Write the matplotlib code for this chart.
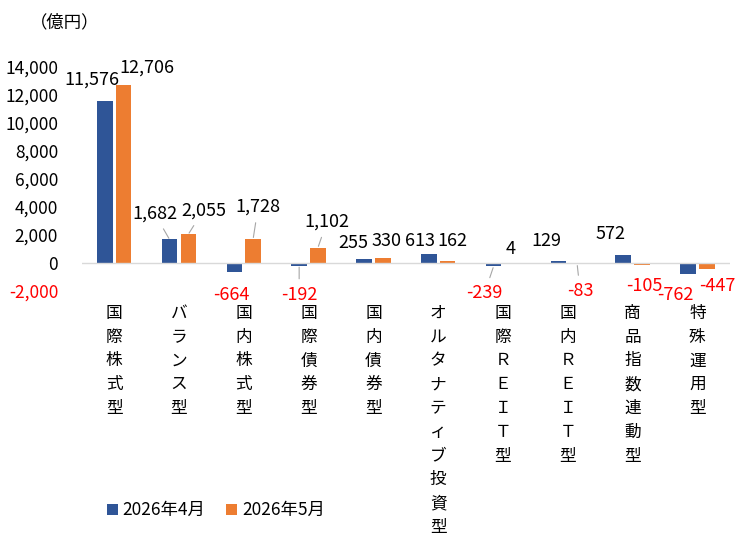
import numpy as np
import matplotlib
matplotlib.use("Agg")
import matplotlib.pyplot as plt
from matplotlib.ticker import FuncFormatter

plt.rcParams['font.family'] = ['Noto Sans CJK JP', 'DejaVu Sans']

# --------------------------------------------------
# Data
# --------------------------------------------------
categories = ["国際株式型", "バランス型", "国内株式型", "国際債券型", "国内債券型",
              "オルタナティブ投資型", "国際ＲＥＩＴ型", "国内ＲＥＩＴ型", "商品指数連動型", "特殊運用型"]
april = [11576, 1682, -664, -192, 255, 613, -239, 129, 572, -762]
may = [12706, 2055, 1728, 1102, 330, 162, 4, -83, -105, -447]
series_names = ["2026年4月", "2026年5月"]

# label offsets in pixels (dx, dy) from the bar end, and whether a leader line is drawn
april_offsets = [(-13, 21), (-15, 26), (-3, -23), (0, -29), (-11, 16),
                 (-9, 13), (-9, -27), (-12, 20), (-13, 21), (-13, -21)]
may_offsets = [(23, 17), (15, 24), (5, 32), (9, 26), (4, 17),
               (5, 20), (-2, 14), (3, -27), (2, -21), (11, -17)]
april_leader = [False, True, False, True, False, False, True, False, False, False]
may_leader = [False, True, True, True, False, False, False, True, False, False]

blue = "#2F5597"
orange = "#ED7D31"

# --------------------------------------------------
# Plot
# --------------------------------------------------
fig = plt.figure(figsize=(7.5, 5.4), dpi=100)
ax = fig.add_axes([0.109, 0.461, 0.864, 0.415])

x = np.arange(len(categories))
w = 0.24
b1 = ax.bar(x - 0.145, april, width=w, color=blue, label=series_names[0])
b2 = ax.bar(x + 0.145, may, width=w, color=orange, label=series_names[1])

ax.set_xlim(-0.5, len(categories) - 0.5)
ax.set_ylim(-2000, 14000)
ax.set_yticks(np.arange(-2000, 14001, 2000))
ax.yaxis.set_major_formatter(FuncFormatter(lambda v, p: f"{int(v):,}"))
ax.tick_params(axis="y", length=0, labelsize=12.5, pad=17)
ax.get_yticklabels()[0].set_color("red")

ax.set_xticks(x)
ax.set_xticklabels(["\n".join(c) for c in categories], va="top")
ax.tick_params(axis="x", length=0, labelsize=12, pad=10)
for lab in ax.get_xticklabels():
    lab.set_linespacing(1.52)

for s in ax.spines.values():
    s.set_visible(False)
ax.axhline(0, color="#d9d9d9", lw=1)


def add_labels(xs, vals, offsets, leaders):
    for xi, v, (dx, dy), lead in zip(xs, vals, offsets, leaders):
        col = "red" if v < 0 else "black"
        props = None
        if lead:
            props = dict(arrowstyle="-", color="#a6a6a6", lw=0.8, shrinkA=3, shrinkB=1)
        ax.annotate(f"{v:,}", xy=(xi, v), xytext=(dx, dy), textcoords="offset pixels",
                    ha="center", va="center", fontsize=13, color=col,
                    arrowprops=props)


add_labels(x - 0.145, april, april_offsets, april_leader)
add_labels(x + 0.145, may, may_offsets, may_leader)

fig.text(0.04, 0.958, "（億円）", fontsize=12.5, va="center")

fig.legend(handles=[b1, b2], loc="center left", bbox_to_anchor=(0.122, 0.055),
           ncol=2, frameon=False, fontsize=12.5, handlelength=0.6, handleheight=0.6,
           handletextpad=0.3, columnspacing=1.2)

fig.savefig("out.png", dpi=100)
